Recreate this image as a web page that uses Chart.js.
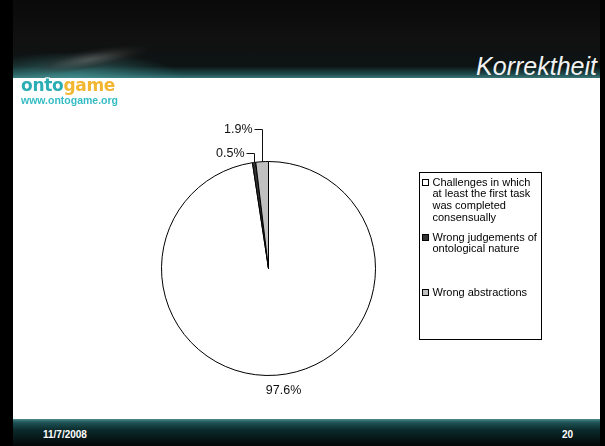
<!DOCTYPE html>
<html>
<head>
<meta charset="utf-8">
<script src="https://cdn.jsdelivr.net/npm/chart.js@4/dist/chart.umd.min.js"></script>
<style>
  html, body { margin: 0; padding: 0; background: #000; }
  #slide { position: relative; width: 605px; height: 446px; overflow: hidden; background: #000; font-family: "Liberation Sans", Arial, sans-serif; }
  #header {
    position: absolute; left: 13px; top: 0; width: 587px; height: 78px;
    background:
      radial-gradient(ellipse 110px 26px at 60px 78px, rgba(70,150,150,0.7), rgba(0,0,0,0) 100%),
      linear-gradient(to bottom, #0a0a0a 0%, #111 55%, #0d1414 85%, #1e4a4c 95%, #3a7476 100%);
  }
  #cat {
    position: absolute; left: 22px; top: 44px; width: 130px; height: 30px;
    background: radial-gradient(ellipse 60px 10px at 68px 16px, rgba(110,110,110,0.6), rgba(50,50,50,0.3) 70%, rgba(0,0,0,0) 100%);
    transform: rotate(-10deg);
  }
  #logo { position: absolute; left: 21px; top: 75px; font-family: "DejaVu Sans", sans-serif; font-weight: bold; font-size: 17px; letter-spacing: -0.3px;
    text-shadow: -1px -1px 0 #fff, 1px -1px 0 #fff, -1px 1px 0 #fff, 1px 1px 0 #fff; }
  #logo .a { color: #2aaeb4; }
  #logo .b { color: #f2b630; }
  #www { position: absolute; left: 21px; top: 94px; font-size: 10.5px; font-weight: bold; color: #35bcc4; }
  #title { position: absolute; right: 8px; top: 54px; font-size: 25px; line-height: 25px; font-style: italic; color: #f2f2f2; }
  #content { position: absolute; left: 13px; top: 78px; width: 587px; height: 341px; background: #fff; }
  #footer {
    position: absolute; left: 13px; top: 419px; width: 587px; height: 27px;
    background: linear-gradient(to bottom, #4f8c8e 0%, #1f5457 12%, #0b2a2c 40%, #040606 100%);
  }
  .foot { position: absolute; top: 10px; font-size: 10px; line-height: 11px; font-weight: bold; color: #fff; }
</style>
</head>
<body>
<div id="slide">
  <div id="header"></div>
  <div id="cat"></div>
  <div id="title">Korrektheit</div>
  <div id="content"><canvas id="pie" width="587" height="341"></canvas></div>
  <div id="logo"><span class="a">onto</span><span class="b">game</span></div>
  <div id="www">www.ontogame.org</div>
  <div id="footer">
    <div class="foot" style="left:30px">11/7/2008</div>
    <div class="foot" style="left:549px">20</div>
  </div>
</div>
<script>
const categories = [
  "Challenges in which at least the first task was completed consensually",
  "Wrong judgements of ontological nature",
  "Wrong abstractions"
];
const shares = [97.6, 0.5, 1.9];
const valueLabels = ["97.6%", "0.5%", "1.9%"];

// percent labels, small slices get leader lines going up
const sliceLabels = {
  id: 'sliceLabels',
  afterDatasetsDraw(chart) {
    const ctx = chart.ctx;
    const arcs = chart.getDatasetMeta(0).data;
    ctx.save();
    ctx.font = '12.5px "Liberation Sans", Arial, sans-serif';
    ctx.fillStyle = '#111';
    ctx.strokeStyle = '#111';
    ctx.lineWidth = 1;
    ctx.textBaseline = 'middle';
    let level = 0;
    arcs.forEach((arc, i) => {
      const p = arc.getProps(['x', 'y', 'startAngle', 'endAngle', 'outerRadius'], true);
      const mid = (p.startAngle + p.endAngle) / 2;
      const ex = p.x + Math.cos(mid) * p.outerRadius;
      const ey = p.y + Math.sin(mid) * p.outerRadius;
      if (shares[i] >= 5) {
        ctx.textAlign = 'center';
        ctx.fillText(valueLabels[i], ex + 7, ey + 15);
      } else {
        const lx = Math.round(ex) + 0.5;
        const ly = Math.round(p.y - p.outerRadius - 9 - level * 24) + 0.5;
        level++;
        ctx.beginPath();
        ctx.moveTo(lx, ey);
        ctx.lineTo(lx, ly);
        ctx.lineTo(lx - 8, ly);
        ctx.stroke();
        ctx.textAlign = 'right';
        ctx.fillText(valueLabels[i], lx - 10, ly);
      }
    });
    ctx.restore();
  }
};

// boxed legend on the right with wrapped entries
const boxLegend = {
  id: 'boxLegend',
  afterDraw(chart) {
    const ctx = chart.ctx;
    const meta = chart.getDatasetMeta(0);
    const bx = 406.5, by = 94.5, bw = 122, bh = 167;
    ctx.save();
    ctx.strokeStyle = '#000';
    ctx.lineWidth = 1;
    ctx.strokeRect(bx, by, bw, bh);
    ctx.font = '11px "Liberation Sans", Arial, sans-serif';
    ctx.fillStyle = '#000';
    ctx.textBaseline = 'middle';
    ctx.textAlign = 'left';
    categories.forEach((cat, i) => {
      const words = cat.split(' ');
      const lines = [];
      let cur = '';
      words.forEach(w => {
        const t = cur ? cur + ' ' + w : w;
        if (ctx.measureText(t).width > 107 && cur) { lines.push(cur); cur = w; } else cur = t;
      });
      lines.push(cur);
      const y0 = by + 10 + i * 55;
      const opts = meta.data[i].options;
      ctx.fillStyle = opts.backgroundColor;
      ctx.fillRect(bx + 3, Math.round(y0) - 3.5, 6, 6);
      ctx.strokeRect(bx + 3, Math.round(y0) - 3.5, 6, 6);
      ctx.fillStyle = '#000';
      lines.forEach((ln, k) => ctx.fillText(ln, bx + 13, y0 + k * 11.7));
    });
    ctx.restore();
  }
};

new Chart(document.getElementById('pie'), {
  type: 'pie',
  data: {
    labels: categories,
    datasets: [{
      data: shares,
      backgroundColor: ['#ffffff', '#333333', '#c0c0c0'],
      borderColor: '#000',
      borderWidth: 1
    }]
  },
  options: {
    responsive: false,
    animation: false,
    layout: { padding: { left: 148, top: 82, right: 224, bottom: 42 } },
    plugins: {
      legend: { display: false },
      tooltip: { enabled: false }
    }
  },
  plugins: [sliceLabels, boxLegend]
});
</script>
</body>
</html>
